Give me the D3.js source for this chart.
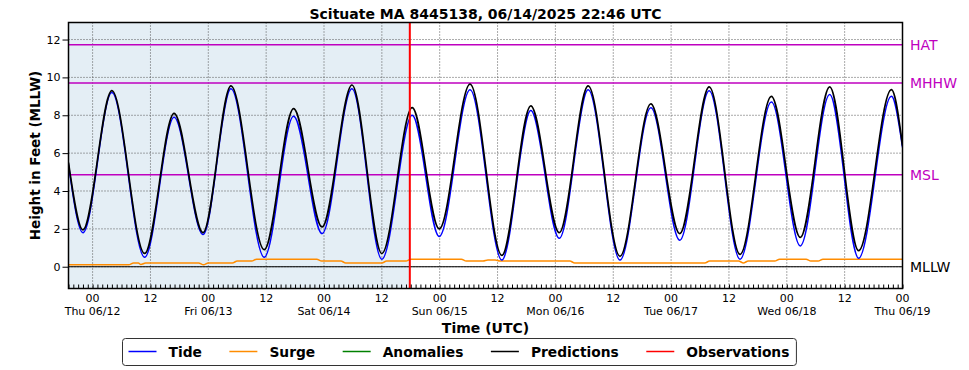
<!DOCTYPE html>
<html>
<head>
<meta charset="utf-8">
<script src="https://cdn.jsdelivr.net/npm/d3@7"></script>
<style>
  body { margin: 0; background: #fff; }
  svg { font-family: "DejaVu Sans", sans-serif; }
</style>
</head>
<body>
<svg id="chart" width="969" height="370"></svg>
<script>
// all times are hours after 2025-06-12 00:00 UTC
const extremaHours = [-5, -2.0, 4.0, 10.8, 16.9, 22.9, 28.7, 35.6, 41.7, 47.6, 53.8, 60.0, 66.3, 71.9,
  78.3, 84.9, 90.9, 96.8, 102.8, 109.4, 115.8, 121.8, 127.9, 134.3, 140.8, 146.8, 152.9, 158.9, 165.7, 168];
const tideFeet = [5.4, 1.8, 9.2, 0.5, 7.9, 1.7, 9.4, 0.5, 7.95, 1.75, 9.4, 0.4, 8.0, 1.6,
  9.35, 0.35, 8.25, 1.5, 9.35, 0.35, 8.4, 1.4, 9.3, 0.4, 8.7, 1.1, 9.1, 0.45, 9.0, 6.3];
const predictionFeet = [5.5, 1.95, 9.3, 0.7, 8.1, 1.8, 9.55, 0.9, 8.35, 2.1, 9.6, 0.7, 8.4, 2.0,
  9.65, 0.6, 8.5, 1.8, 9.55, 0.55, 8.6, 1.75, 9.5, 0.65, 9.0, 1.55, 9.5, 0.85, 9.35, 6.4];

const surgeHours = [-5, 7.5, 8.5, 9.5, 10, 11, 22, 23, 24, 29, 30, 33, 34, 46.5, 47.5, 51.5, 52.5, 60, 61,
  65, 66, 76.5, 77.5, 81, 82, 83.5, 84.5, 99, 100, 127, 128, 134, 135, 136, 141.5, 142.5, 148, 149, 150.5, 151.5, 168];
const surgeFeet = [0.1, 0.1, 0.2, 0.2, 0.12, 0.2, 0.2, 0.1, 0.2, 0.2, 0.3, 0.3, 0.4, 0.4, 0.3, 0.3, 0.2, 0.2, 0.3,
  0.3, 0.4, 0.4, 0.3, 0.3, 0.35, 0.35, 0.3, 0.3, 0.2, 0.2, 0.3, 0.3, 0.2, 0.3, 0.3, 0.4, 0.4, 0.3, 0.3, 0.4, 0.4];

const datumNames = ['HAT', 'MHHW', 'MSL', 'MLLW'];
const datumFeet = [11.72, 9.71, 4.86, 0];

const yTicks = [0, 2, 4, 6, 8, 10, 12];
const nowHour = 65.8;
const legendNames = ['Tide', 'Surge', 'Anomalies', 'Predictions', 'Observations'];
const legendColors = ['#0000ff', '#ff8c00', '#008000', '#000000', '#ff0000'];

const base = Date.UTC(2025, 5, 12);
const hourToDate = h => new Date(base + h * 3600e3);

const svg = d3.select('#chart');
const box = { left: 68.5, right: 902.5, top: 22.5, bottom: 288.5 };

const x = d3.scaleUtc()
  .domain([hourToDate(-5), hourToDate(168)])
  .range([box.left, box.right]);
const y = d3.scaleLinear()
  .domain([-1.15, 12.9])
  .range([box.bottom, box.top]);

svg.append('defs').append('clipPath').attr('id', 'plot-clip')
  .append('rect')
  .attr('x', box.left).attr('y', box.top)
  .attr('width', box.right - box.left).attr('height', box.bottom - box.top);

// shaded past period
svg.append('rect')
  .attr('x', box.left).attr('y', box.top)
  .attr('width', x(hourToDate(nowHour)) - box.left)
  .attr('height', box.bottom - box.top)
  .attr('fill', '#e4eef5');

// grid
const majorTicks = x.ticks(d3.utcHour.every(12));
svg.append('g')
  .selectAll('line')
  .data(majorTicks)
  .join('line')
  .attr('x1', d => x(d)).attr('x2', d => x(d))
  .attr('y1', box.top).attr('y2', box.bottom)
  .attr('stroke', '#555').attr('stroke-width', 1).attr('stroke-dasharray', '1,2');
svg.append('g')
  .selectAll('line')
  .data(yTicks)
  .join('line')
  .attr('x1', box.left).attr('x2', box.right)
  .attr('y1', d => y(d)).attr('y2', d => y(d))
  .attr('stroke', '#555').attr('stroke-width', 1).attr('stroke-dasharray', '1,2');

// datum lines
svg.append('g')
  .selectAll('line')
  .data(datumFeet)
  .join('line')
  .attr('x1', box.left).attr('x2', box.right)
  .attr('y1', d => y(d)).attr('y2', d => y(d))
  .attr('stroke', d => d === 0 ? '#000' : '#bf00bf')
  .attr('stroke-width', d => d === 0 ? 1.2 : 1.5);

svg.append('g')
  .selectAll('text')
  .data(datumNames)
  .join('text')
  .attr('x', 910)
  .attr('y', (d, i) => y(datumFeet[i]))
  .attr('dy', '0.36em')
  .attr('font-size', 14)
  .attr('fill', (d, i) => datumFeet[i] === 0 ? '#000' : '#bf00bf')
  .text(d => d);

// series
const plot = svg.append('g').attr('clip-path', 'url(#plot-clip)');

const surgeLine = d3.line()
  .x(i => x(hourToDate(surgeHours[i])))
  .y(i => y(surgeFeet[i]))
  .curve(d3.curveMonotoneX);
const tideLine = d3.line()
  .x(i => x(hourToDate(extremaHours[i])))
  .y(i => y(tideFeet[i]))
  .curve(d3.curveMonotoneX);
const predLine = d3.line()
  .x(i => x(hourToDate(extremaHours[i])))
  .y(i => y(predictionFeet[i]))
  .curve(d3.curveMonotoneX);

plot.append('path')
  .attr('d', surgeLine(d3.range(surgeHours.length)))
  .attr('fill', 'none').attr('stroke', legendColors[1]).attr('stroke-width', 1.5);
plot.append('path')
  .attr('d', tideLine(d3.range(extremaHours.length)))
  .attr('fill', 'none').attr('stroke', legendColors[0]).attr('stroke-width', 1.5);
plot.append('path')
  .attr('d', predLine(d3.range(extremaHours.length)))
  .attr('fill', 'none').attr('stroke', legendColors[3]).attr('stroke-width', 1.7);

// now marker
svg.append('line')
  .attr('x1', x(hourToDate(nowHour))).attr('x2', x(hourToDate(nowHour)))
  .attr('y1', box.top).attr('y2', box.bottom)
  .attr('stroke', '#ff0000').attr('stroke-width', 2);

// x axis: hourly minor ticks pointing in
svg.append('g')
  .attr('transform', `translate(0,${box.bottom})`)
  .call(d3.axisBottom(x).ticks(d3.utcHour.every(1)).tickSize(-4).tickFormat(''))
  .call(g => g.select('.domain').remove())
  .call(g => g.selectAll('line').attr('stroke', '#000'));

const fmtDay = d3.utcFormat('%a %m/%d');
const xLabels = svg.append('g').attr('font-size', 11).attr('text-anchor', 'middle').attr('fill', '#000');
xLabels.selectAll('.hh')
  .data(majorTicks)
  .join('text')
  .attr('x', d => x(d))
  .attr('y', box.bottom + 13)
  .text(d => d3.utcFormat('%H')(d));
xLabels.selectAll('.day')
  .data(majorTicks.filter(d => d.getUTCHours() === 0))
  .join('text')
  .attr('x', d => x(d))
  .attr('y', box.bottom + 26)
  .text(d => fmtDay(d));

// y axis
svg.append('g')
  .attr('transform', `translate(${box.left},0)`)
  .call(d3.axisLeft(y).tickValues(yTicks).tickSize(6).tickPadding(2).tickFormat(d3.format('d')))
  .call(g => g.select('.domain').remove())
  .call(g => g.selectAll('text').attr('font-size', 11).attr('font-family', 'DejaVu Sans').attr('fill', '#000'))
  .call(g => g.selectAll('line').attr('stroke', '#000'));

// frame
svg.append('rect')
  .attr('x', box.left).attr('y', box.top)
  .attr('width', box.right - box.left).attr('height', box.bottom - box.top)
  .attr('fill', 'none').attr('stroke', '#000').attr('stroke-width', 1.5);

// titles
svg.append('text')
  .attr('x', (box.left + box.right) / 2).attr('y', 19)
  .attr('text-anchor', 'middle').attr('font-size', 14).attr('font-weight', 'bold')
  .text('Scituate MA 8445138, 06/14/2025 22:46 UTC');
svg.append('text')
  .attr('x', (box.left + box.right) / 2).attr('y', 333)
  .attr('text-anchor', 'middle').attr('font-size', 14).attr('font-weight', 'bold')
  .text('Time (UTC)');
svg.append('text')
  .attr('transform', `translate(40,${(box.top + box.bottom) / 2}) rotate(-90)`)
  .attr('text-anchor', 'middle').attr('font-size', 13.5).attr('font-weight', 'bold')
  .text('Height in Feet (MLLW)');

// legend
const legend = svg.append('g');
const legendBox = legend.append('rect')
  .attr('y', 338.5).attr('height', 27).attr('rx', 3)
  .attr('fill', '#fff').attr('stroke', '#333').attr('stroke-width', 1);
let cursor = 128.5;
legendNames.forEach((name, i) => {
  legend.append('line')
    .attr('x1', cursor).attr('x2', cursor + 28)
    .attr('y1', 351.5).attr('y2', 351.5)
    .attr('stroke', legendColors[i]).attr('stroke-width', 1.5);
  const label = legend.append('text')
    .attr('x', cursor + 40).attr('y', 356.5)
    .attr('font-size', 13.8).attr('font-weight', 'bold')
    .text(name);
  cursor += 40 + label.node().getComputedTextLength() + 27.5;
});
legendBox.attr('x', 122.5).attr('width', cursor - 27.5 + 7 - 122.5);
</script>
</body>
</html>
